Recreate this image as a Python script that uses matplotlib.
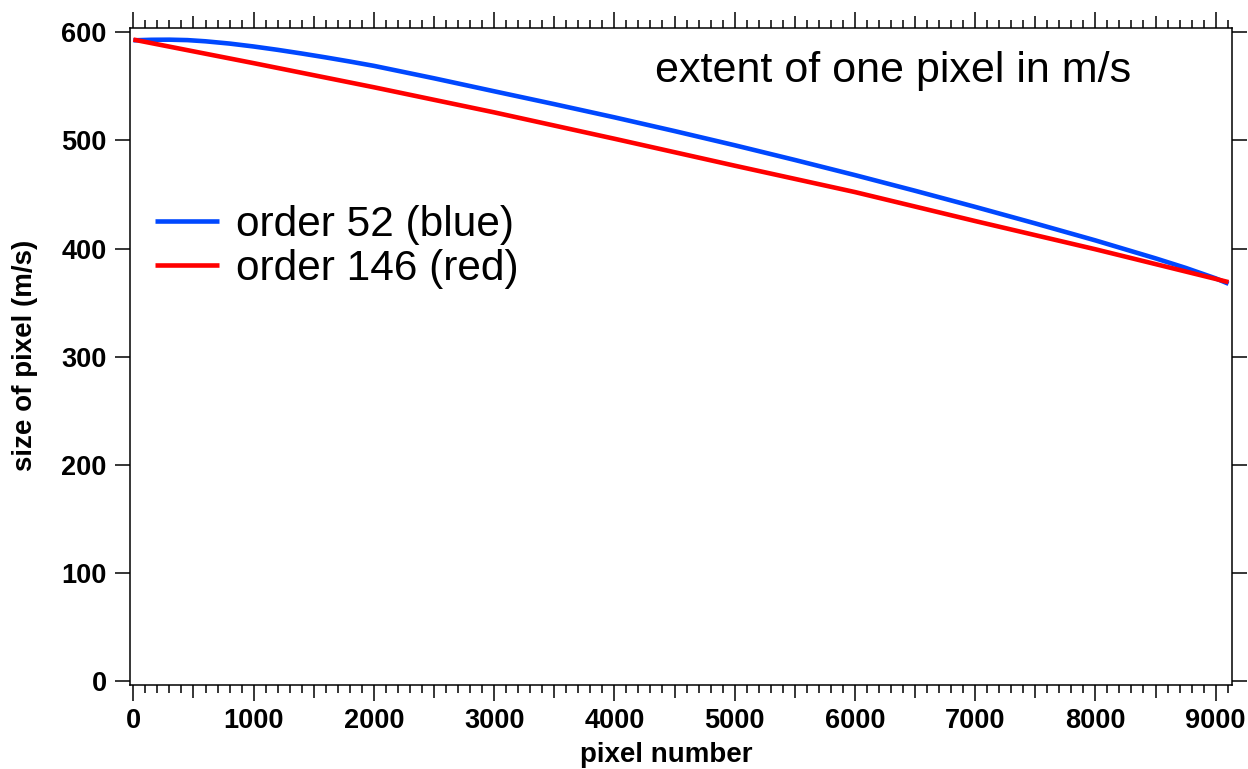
import matplotlib.pyplot as plt
from matplotlib.ticker import FixedLocator

plt.rcParams['font.family'] = ['Liberation Sans', 'DejaVu Sans']

# order 52 (blue)
pixel_blue = [0, 150, 300, 450, 600, 800, 1000, 1200, 1400, 1600, 1800, 2000,
              2500, 3000, 3500, 4000, 4500, 5000, 5500, 6000, 6500, 7000, 7500,
              8000, 8500, 8750, 9000, 9107]
size_blue = [592.6, 593.1, 593.2, 592.8, 591.7, 589.6, 586.9, 583.8, 580.4,
             576.8, 573.0, 569.0, 557.5, 545.5, 533.6, 521.4, 508.7, 495.6,
             482.0, 468.0, 453.5, 438.6, 423.3, 407.6, 391.0, 382.2, 372.5,
             367.5]

# order 146 (red)
pixel_red = [0, 1000, 2000, 3000, 4000, 5000, 6000, 7000, 8000, 9000, 9107]
size_red = [593.3, 571.5, 549.2, 526.0, 501.6, 476.7, 452.3, 425.5, 399.4,
            372.0, 369.0]

labels = ['order 52 (blue)', 'order 146 (red)']
x_major = list(range(0, 9001, 1000))
x_medium = list(range(500, 9001, 1000))
x_minor = [v for v in range(0, 9101, 100) if v % 500 != 0]
y_major = list(range(0, 601, 100))

W, H = 1248, 769
fig = plt.figure(figsize=(W / 100, H / 100), dpi=100)
ax = fig.add_axes([130 / W, 1 - 685 / H, 1102 / W, 657 / H])

ax.plot(pixel_blue, size_blue, color='#0048ff', lw=3.3, label=labels[0], solid_capstyle='butt')
ax.plot(pixel_red, size_red, color='#ff0000', lw=3.3, label=labels[1], solid_capstyle='butt')

ax.set_xlim(-28, 9136)
ax.set_ylim(-3.5, 604)

ax.xaxis.set_major_locator(FixedLocator(x_major))
ax.xaxis.set_minor_locator(FixedLocator(x_minor))
ax.yaxis.set_major_locator(FixedLocator(y_major))
ax.yaxis.set_minor_locator(FixedLocator([]))

for sp in ax.spines.values():
    sp.set_linewidth(1.1)

ax.tick_params(axis='x', which='major', direction='out', length=11.5, width=1.1,
               top=True, bottom=True, labelsize=19.5, pad=5)
ax.tick_params(axis='x', which='minor', direction='out', length=5.8, width=1.1,
               top=True, bottom=True)
ax.tick_params(axis='y', which='major', direction='out', length=10.8, width=1.1,
               left=True, right=True, labelright=False, labelsize=19.5, pad=6)
for t in ax.get_xticklabels() + ax.get_yticklabels():
    t.set_fontweight('bold')

# medium ticks every 500
for loc in ('bottom', 'top'):
    sec = ax.secondary_xaxis(loc)
    sec.xaxis.set_major_locator(FixedLocator(x_medium))
    sec.set_xticklabels([])
    sec.tick_params(direction='out', length=9.0, width=1.1)
    sec.spines[loc].set_visible(False)

ax.set_xlabel('pixel number', fontsize=20, fontweight='bold')
ax.xaxis.label.set_va('baseline')
ax.xaxis.set_label_coords(0.487, (685 - 762) / 657)
ax.set_ylabel('size of pixel (m/s)', fontsize=20, fontweight='bold')
ax.yaxis.label.set_va('center')
ax.yaxis.set_label_coords((25 - 130) / 1102, 0.502)

ax.text((655 - 130) / 1102, (685 - 82) / 657, 'extent of one pixel in m/s',
        transform=ax.transAxes, fontsize=31, va='baseline', ha='left')

ax.legend(loc='upper left', bbox_to_anchor=((155 - 130) / 1102, (685 - 205) / 657),
          frameon=False, fontsize=30.5, handlelength=1.52, handletextpad=0.4,
          labelspacing=0.1, borderpad=0, borderaxespad=0)

fig.savefig('out.png', dpi=100)
